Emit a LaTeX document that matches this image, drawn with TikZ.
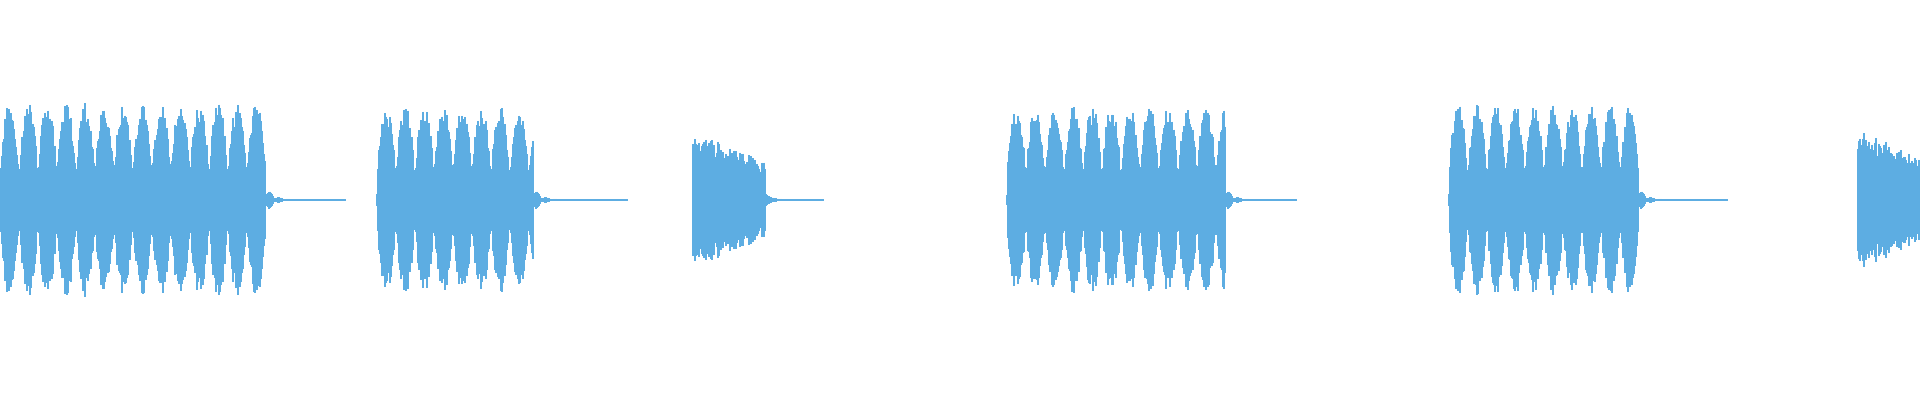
\documentclass[tikz,border=0pt]{standalone}
\definecolor{wave}{RGB}{93,173,226}
\newcommand{\burstseg}[4]{% start, burst end, tail end, max amp
  \foreach \x in {#1,...,#2}{
    \pgfmathsetmacro{\ph}{mod(\x-#1,19)*180/19}
    \pgfmathsetmacro{\a}{#4*(0.05+0.95*(abs(sin(\ph))+0.001)^0.55)*(0.78+0.22*rnd)}
    \draw (\x,200-\a) -- (\x,200+\a);
  }
  \foreach \x in {#2,...,#3}{
    \pgfmathsetmacro{\a}{0.6+14*exp(-(\x-#2)/7)*abs(sin(mod(\x-#2,9)*20))}
    \draw (\x,200-\a) -- (\x,200+\a);
  }}
\newcommand{\denseseg}[5]{% start, end, tail end, amp start, amp end
  \foreach \x in {#1,...,#2}{
    \pgfmathsetmacro{\a}{(#4+(#5-#4)*(\x-#1)/(#2-#1))*(0.65+0.35*rnd)}
    \draw (\x,200-\a) -- (\x,200+\a);
  }
  \ifnum#3>#2
  \foreach \x in {#2,...,#3}{
    \pgfmathsetmacro{\a}{0.6+6*exp(-(\x-#2)/6)}
    \draw (\x,200-\a) -- (\x,200+\a);
  }\fi}
\begin{document}
\begin{tikzpicture}[x=1pt,y=-1pt]
\useasboundingbox (0,0) rectangle (1920,400);
\fill[white] (0,0) rectangle (1920,400);
\pgfmathsetseed{7}
\begin{scope}[draw=wave,line width=1.1pt]
\burstseg{0}{266}{345}{97}
\burstseg{377}{533}{627}{94}
\denseseg{693}{765}{823}{68}{40}
\burstseg{1007}{1225}{1296}{94}
\burstseg{1449}{1638}{1727}{95}
\denseseg{1858}{1920}{1920}{72}{42}
\end{scope}
\end{tikzpicture}
\end{document}
